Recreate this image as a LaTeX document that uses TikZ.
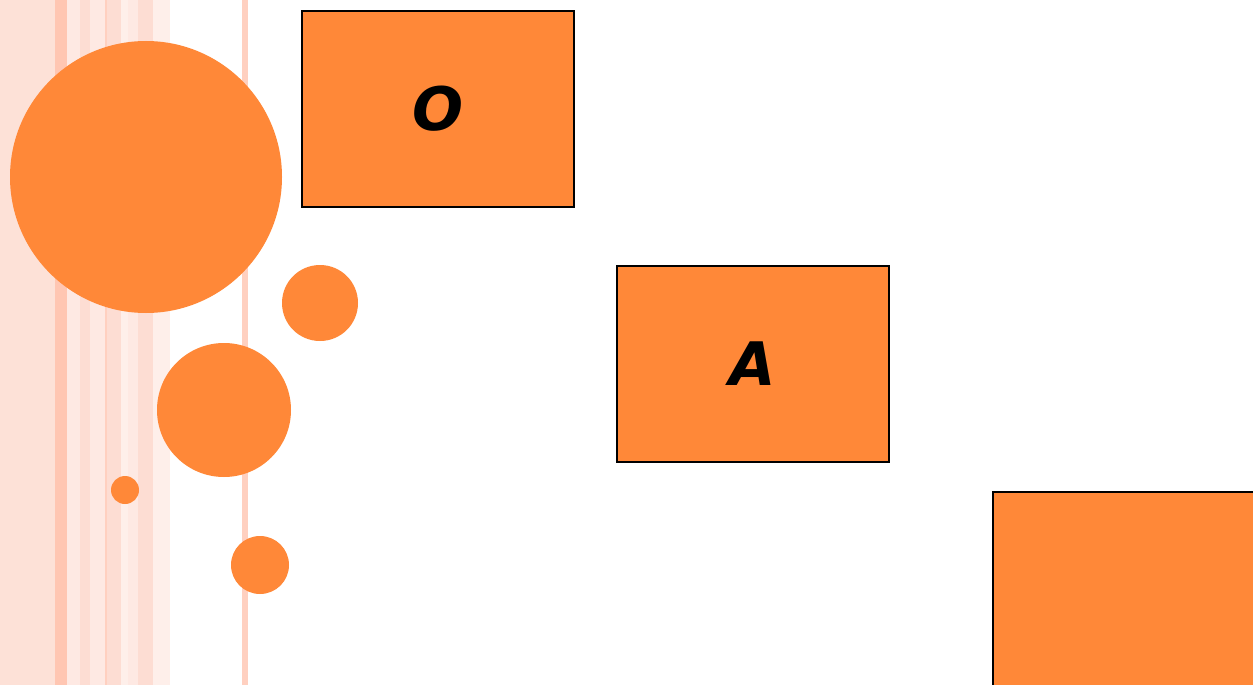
\documentclass[tikz,border=0pt]{standalone}
\usepackage{fontspec}
\newfontfamily\boxfont{DejaVu Sans}
\definecolor{orng}{HTML}{FF8838}
\definecolor{sA}{HTML}{FDE1D7}
\definecolor{sB}{HTML}{FFC6B2}
\definecolor{sC}{HTML}{FEE9E3}
\definecolor{sD}{HTML}{FDDDD3}
\definecolor{sE}{HTML}{FFD0C0}
\definecolor{sF}{HTML}{FEEFEA}
\tikzset{
  dot/.style={circle,fill=orng,draw=none,inner sep=0pt},
  card/.style={rectangle,fill=orng,draw=black,line width=1.5pt,inner sep=0pt,font=\boxfont\bfseries\itshape\fontsize{60}{60}\selectfont}
}
\begin{document}
\begin{tikzpicture}[x=1pt,y=-1pt]
\useasboundingbox (0,0) rectangle (1253,685);
\fill[white] (0,0) rectangle (1253,685);
% stripes
\fill[sA] (0,0) rectangle (55,685);
\fill[sB] (55,0) rectangle (67,685);
\fill[sC] (67,0) rectangle (80,685);
\fill[sD] (80,0) rectangle (90,685);
\fill[sC] (90,0) rectangle (105,685);
\fill[sE] (105,0) rectangle (107,685);
\fill[sD] (107,0) rectangle (121,685);
\fill[sF] (121,0) rectangle (128,685);
\fill[sC] (128,0) rectangle (138,685);
\fill[sD] (138,0) rectangle (153,685);
\fill[sF] (153,0) rectangle (170,685);
\fill[sE] (242,0) rectangle (248,685);
% circles
\node[dot,minimum size=272pt] (c1) at (146,177) {};
\node[dot,minimum size=76pt] (c2) at (320,303) {};
\node[dot,minimum size=134pt] (c3) at (224,410) {};
\node[dot,minimum size=28pt] (c4) at (125,490) {};
\node[dot,minimum size=58pt] (c5) at (260,565) {};
% boxes
\node[card,minimum width=272pt,minimum height=196pt] (bO) at (438,109) {O};
\node[card,minimum width=272pt,minimum height=196pt] (bA) at (753,364) {A};
\node[card,minimum width=272pt,minimum height=196pt,anchor=north west] (bC) at (992,491) {};
\end{tikzpicture}
\end{document}
